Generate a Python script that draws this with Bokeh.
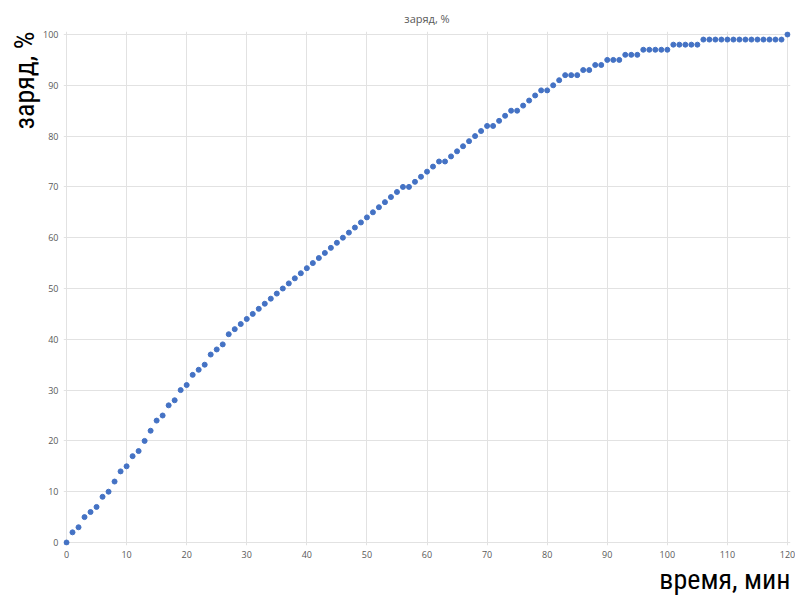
from bokeh.plotting import figure
from bokeh.models import Range1d, FixedTicker, Title
from bokeh.embed import file_html
from bokeh.resources import INLINE

# data
minutes = list(range(0, 121))
charge = [0, 2, 3, 5, 6, 7, 9, 10, 12, 14, 15, 17, 18, 20, 22, 24, 25, 27, 28, 30,
          31, 33, 34, 35, 37, 38, 39, 41, 42, 43, 44, 45, 46, 47, 48, 49, 50, 51, 52, 53,
          54, 55, 56, 57, 58, 59, 60, 61, 62, 63, 64, 65, 66, 67, 68, 69, 70, 70, 71, 72,
          73, 74, 75, 75, 76, 77, 78, 79, 80, 81, 82, 82, 83, 84, 85, 85, 86, 87, 88, 89,
          89, 90, 91, 92, 92, 92, 93, 93, 94, 94, 95, 95, 95, 96, 96, 96, 97, 97, 97, 97,
          97, 98, 98, 98, 98, 98, 99, 99, 99, 99, 99, 99, 99, 99, 99, 99, 99, 99, 99, 99,
          100]
x_ticks = list(range(0, 121, 10))
y_ticks = list(range(0, 101, 10))
title_text = "заряд, %"
x_label = "время, мин"
y_label = "заряд, %"

big_font = "'Roboto Condensed', 'DejaVu Sans Condensed', sans-serif"

p = figure(width=795, height=595, output_backend="svg", toolbar_location=None,
           x_range=Range1d(-0.5, 120.5), y_range=Range1d(-0.59, 100.59),
           min_border_left=63, min_border_right=5, min_border_top=31, min_border_bottom=47,
           title=title_text)
p.outline_line_color = None
p.background_fill_color = "white"
p.border_fill_color = "white"

p.title.align = "center"
p.title.vertical_align = "top"
p.title.text_font = "Open Sans"
p.title.text_font_size = "11px"
p.title.text_font_style = "normal"
p.title.text_color = "#595959"
p.title.standoff = 7

for ax, ticks in ((p.xaxis[0], x_ticks), (p.yaxis[0], y_ticks)):
    ax.ticker = FixedTicker(ticks=ticks)
    ax.axis_line_color = None
    ax.major_tick_line_color = None
    ax.minor_tick_line_color = None
    ax.major_tick_out = 0
    ax.major_tick_in = 0
    ax.major_label_text_font = "Open Sans"
    ax.major_label_text_font_size = "9px"
    ax.major_label_text_color = "#595959"
p.xaxis[0].major_label_standoff = 5
p.yaxis[0].major_label_standoff = 5

p.xgrid.grid_line_color = "#e2e2e2"
p.ygrid.grid_line_color = "#e2e2e2"
p.xgrid.ticker = FixedTicker(ticks=x_ticks)
p.ygrid.ticker = FixedTicker(ticks=y_ticks)

p.scatter(minutes, charge, size=5, marker="circle", fill_color="#4472C4",
          line_color="#4472C4")

p.add_layout(Title(text=x_label, align="right", text_font=big_font,
                   text_font_size="28px", text_font_style="normal",
                   text_color="black", standoff=0), "below")
p.add_layout(Title(text=y_label, align="right", text_font=big_font,
                   text_font_size="28px", text_font_style="normal",
                   text_color="black", standoff=0), "left")

open("out.html", "w").write(file_html(p, INLINE))
